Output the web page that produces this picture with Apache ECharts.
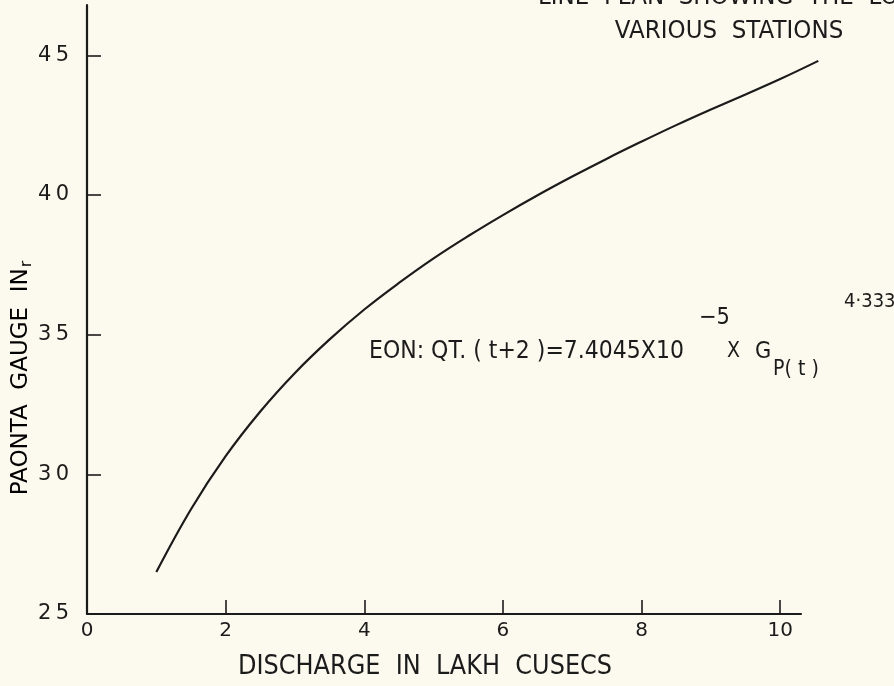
<!DOCTYPE html>
<html>
<head>
<meta charset="utf-8">
<script src="https://cdn.jsdelivr.net/npm/echarts@6/dist/echarts.min.js"></script>
<style>
html,body{margin:0;padding:0;background:#fcfaee;}
#c{width:894px;height:686px;}
</style>
</head>
<body>
<div id="c"></div>
<script>
// Data
var discharge = [1.0, 1.5, 2.0, 2.5, 3.0, 3.5, 4.0, 4.5, 5.0, 5.5, 6.0, 6.5, 7.0, 7.5, 8.0, 8.5, 9.0, 9.5, 10.0, 10.55];
var gauge = [26.5, 28.75, 30.65, 32.25, 33.63, 34.83, 35.9, 36.85, 37.73, 38.53, 39.28, 39.99, 40.66, 41.3, 41.91, 42.5, 43.06, 43.6, 44.15, 44.8];
var xTicks = [0, 2, 4, 6, 8, 10];
var yTicks = [25, 30, 35, 40, 45];
var xTitle = 'DISCHARGE  IN  LAKH  CUSECS';
var yTitle = 'PAONTA  GAUGE  IN';
var titleLine1 = 'LINE  PLAN  SHOWING  THE  LO';
var titleLine2 = 'VARIOUS  STATIONS';

var pts = discharge.map(function (x, i) { return [x, gauge[i]]; });
var ink = '#1b1b1b';
var font = 'DejaVu Sans';
var pxPerUnit = (894 - 87 - 93) / 10.3;

var chart = echarts.init(document.getElementById('c'));
chart.setOption({
  backgroundColor: '#fcfaee',
  animation: false,
  grid: [
    { left: 87, right: 93, top: 5, bottom: 72, containLabel: false },
    { left: 87, right: 894 - 87 - 10.6 * pxPerUnit, top: 5, bottom: 72, containLabel: false }
  ],
  xAxis: [{
    type: 'value', gridIndex: 0, min: 0, max: 10.3, interval: 2,
    splitLine: { show: false },
    axisLine: { lineStyle: { color: ink, width: 2.2 } },
    axisTick: { inside: true, length: 14, lineStyle: { color: ink, width: 1.6 }, customValues: xTicks },
    axisLabel: { color: ink, fontFamily: font, fontSize: 20, margin: 7, customValues: xTicks }
  }, {
    type: 'value', gridIndex: 1, min: 0, max: 10.6, show: false
  }],
  yAxis: [{
    type: 'value', gridIndex: 0, min: 25, max: 46.8, interval: 5,
    splitLine: { show: false },
    axisLine: { lineStyle: { color: ink, width: 2.2 } },
    axisTick: { inside: true, length: 14, lineStyle: { color: ink, width: 1.6 }, customValues: yTicks },
    axisLabel: {
      color: ink, fontFamily: font, fontSize: 21, margin: 18, customValues: yTicks,
      formatter: function (v) { return String(v).split('').join('\u2009'); }
    }
  }, {
    type: 'value', gridIndex: 1, min: 25, max: 46.8, show: false
  }],
  series: [{
    type: 'line', xAxisIndex: 1, yAxisIndex: 1, data: pts, smooth: 0.4, showSymbol: false,
    lineStyle: { color: ink, width: 2.2 }
  }],
  graphic: [
    { type: 'text', x: 425, y: 667, scaleY: 1.1,
      style: { text: xTitle, font: '24px ' + font, fill: ink, align: 'center', verticalAlign: 'middle' } },
    { type: 'text', x: 21, y: 378, rotation: Math.PI / 2,
      style: { text: '{a|' + yTitle + '}{b|r}', align: 'center', verticalAlign: 'middle',
        rich: { a: { fontFamily: font, fontSize: 23, color: ink }, b: { fontFamily: font, fontSize: 16, color: ink, padding: [12, 0, 0, 1] } } } },
    { type: 'text', x: 538, y: 10, scaleY: 1.1,
      style: { text: titleLine1, font: '23px ' + font, fill: ink, verticalAlign: 'bottom' } },
    { type: 'text', x: 729, y: 31, scaleY: 1.1,
      style: { text: titleLine2, font: '23px ' + font, fill: ink, align: 'center', verticalAlign: 'middle' } },
    { type: 'text', x: 369, y: 352, scaleY: 1.1,
      style: { text: 'EON: QT. ( t+2 )=7.4045X10', font: '22px ' + font, fill: ink, verticalAlign: 'middle' } },
    { type: 'text', x: 699, y: 318, scaleY: 1.1,
      style: { text: '\u22125', font: '21px ' + font, fill: ink, verticalAlign: 'middle' } },
    { type: 'text', x: 727, y: 352, scaleY: 1.1,
      style: { text: 'X', font: '19px ' + font, fill: ink, verticalAlign: 'middle' } },
    { type: 'text', x: 755, y: 352, scaleY: 1.1,
      style: { text: 'G', font: '21px ' + font, fill: ink, verticalAlign: 'middle' } },
    { type: 'text', x: 773, y: 370, scaleY: 1.1,
      style: { text: 'P( t )', font: '19px ' + font, fill: ink, verticalAlign: 'middle' } },
    { type: 'text', x: 844, y: 302, scaleY: 1.1,
      style: { text: '4\u00b7333', font: '18px ' + font, fill: ink, verticalAlign: 'middle' } }
  ]
});
</script>
</body>
</html>
